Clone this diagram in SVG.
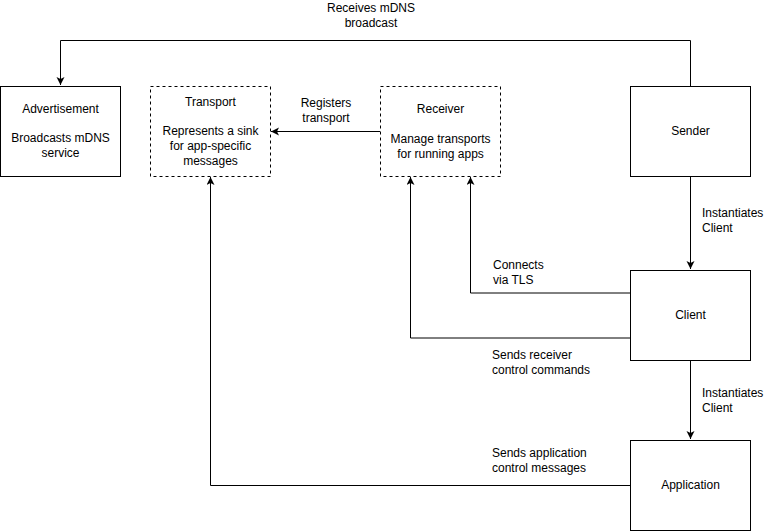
<svg xmlns="http://www.w3.org/2000/svg" width="781" height="531" viewBox="0 0 781 531">
<style>
  .box { fill: #ffffff; stroke: #000000; stroke-width: 1; }
  .dash { stroke-dasharray: 3 3; }
  .t { font-family: "Liberation Sans", Arial, Helvetica, sans-serif; font-size: 12px; fill: #000000; }
  .c { text-anchor: middle; }
  .edge { fill: none; stroke: #000000; stroke-width: 1; marker-end: url(#arrow); }
</style>
<defs>
  <marker id="arrow" markerUnits="userSpaceOnUse" markerWidth="10" markerHeight="10" refX="8" refY="4" orient="auto">
    <path d="M0,0 L8,4 L0,8 L2,4 Z" fill="#000000"/>
  </marker>
</defs>
<rect width="781" height="531" fill="#ffffff"/>
<g id="connectors">
  <path class="edge" d="M690.5 86 V40.5 H60.5 V85"/>
  <path class="edge" d="M380 131.5 H271"/>
  <path class="edge" d="M690.5 177 V269"/>
  <path class="edge" d="M630 293 H470.5 V177"/>
  <path class="edge" d="M630 338 H410.5 V177"/>
  <path class="edge" d="M690.5 361 V439"/>
  <path class="edge" d="M630 485.5 H210.5 V177"/>
  <text class="t c" x="371" y="12">Receives mDNS</text>
  <text class="t c" x="371" y="27">broadcast</text>
  <text class="t c" x="326" y="107">Registers</text>
  <text class="t c" x="326" y="122">transport</text>
  <text class="t" x="702" y="217">Instantiates</text>
  <text class="t" x="702" y="232">Client</text>
  <text class="t" x="493" y="269">Connects</text>
  <text class="t" x="493" y="284">via TLS</text>
  <text class="t" x="492" y="359">Sends receiver</text>
  <text class="t" x="492" y="374">control commands</text>
  <text class="t" x="702" y="397">Instantiates</text>
  <text class="t" x="702" y="412">Client</text>
  <text class="t" x="492" y="457">Sends application</text>
  <text class="t" x="492" y="472">control messages</text>
</g>
<g id="advertisement">
  <rect class="box" x="0.5" y="86.5" width="120" height="90"/>
  <text class="t c" x="60.5" y="113">Advertisement</text>
  <text class="t c" x="60.5" y="142">Broadcasts mDNS</text>
  <text class="t c" x="60.5" y="157">service</text>
</g>
<g id="transport">
  <rect class="box dash" x="150.5" y="86.5" width="120" height="90"/>
  <text class="t c" x="210.5" y="106">Transport</text>
  <text class="t c" x="210.5" y="135">Represents a sink</text>
  <text class="t c" x="210.5" y="150">for app-specific</text>
  <text class="t c" x="210.5" y="165">messages</text>
</g>
<g id="receiver">
  <rect class="box dash" x="380.5" y="86.5" width="120" height="90"/>
  <text class="t c" x="440.5" y="113">Receiver</text>
  <text class="t c" x="440.5" y="143">Manage transports</text>
  <text class="t c" x="440.5" y="158">for running apps</text>
</g>
<g id="sender">
  <rect class="box" x="630.5" y="86.5" width="120" height="90"/>
  <text class="t c" x="690.5" y="135">Sender</text>
</g>
<g id="client">
  <rect class="box" x="630.5" y="270.5" width="120" height="90"/>
  <text class="t c" x="690.5" y="319">Client</text>
</g>
<g id="application">
  <rect class="box" x="630.5" y="440.5" width="120" height="90"/>
  <text class="t c" x="690.5" y="489">Application</text>
</g>
</svg>
